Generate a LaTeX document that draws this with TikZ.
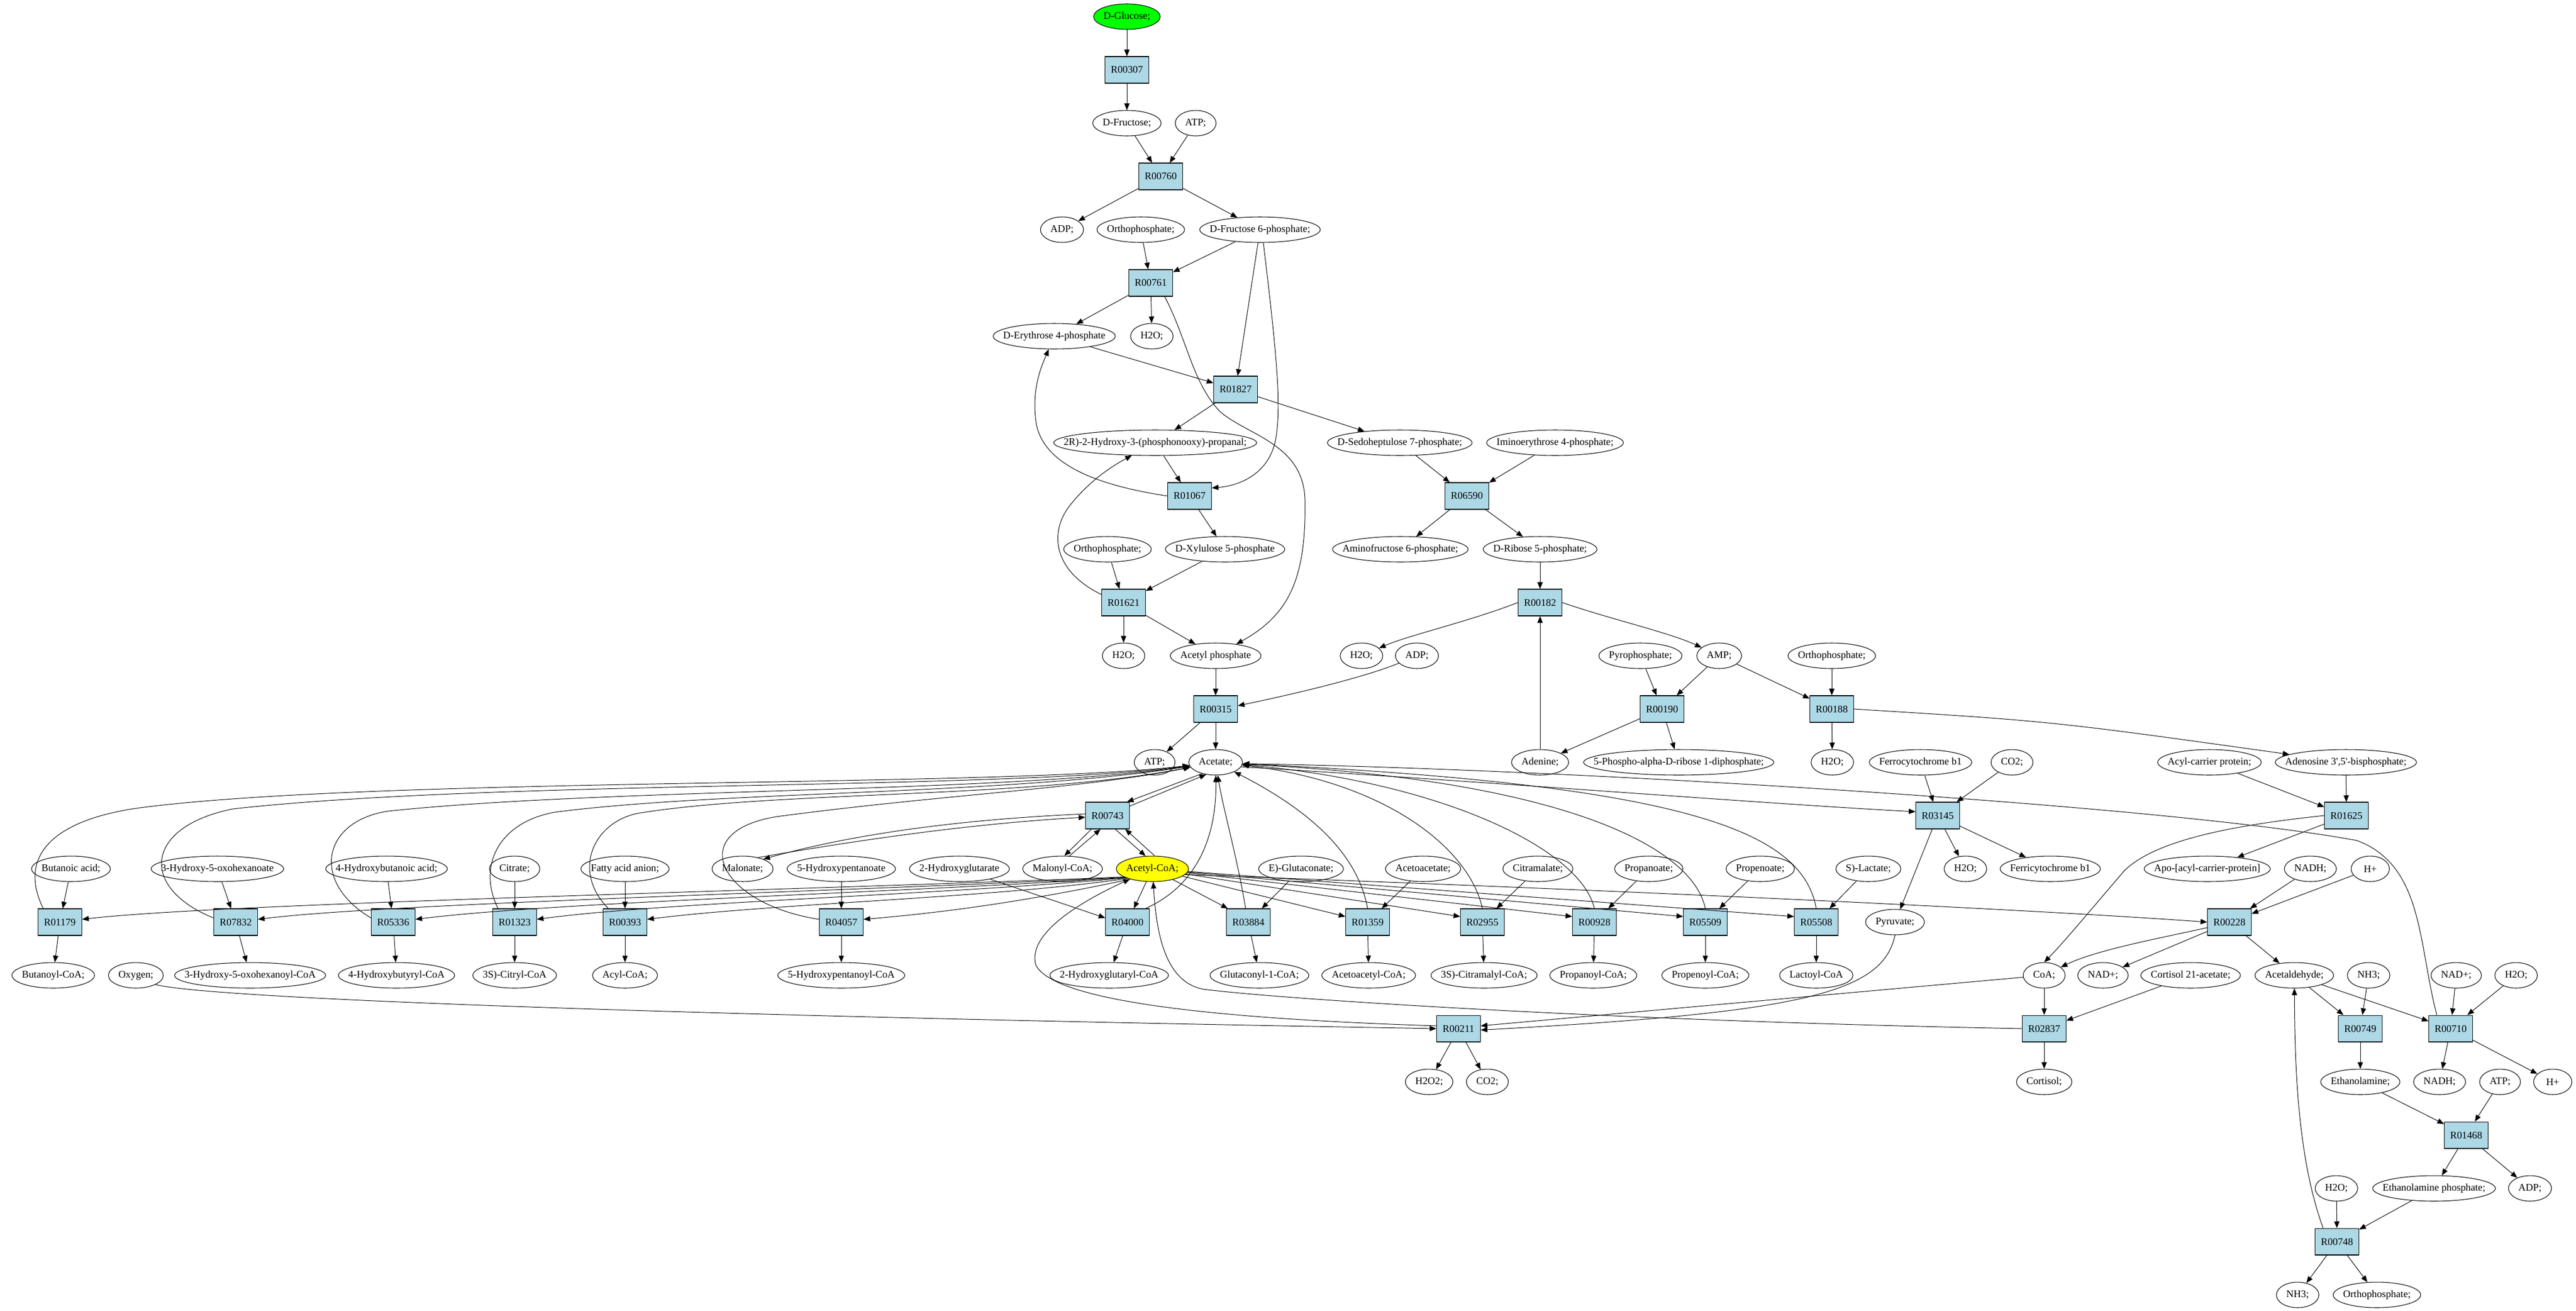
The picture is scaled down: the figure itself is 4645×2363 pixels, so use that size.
\documentclass[tikz,border=0pt]{standalone}
\usepackage{fontspec}
\setmainfont{Liberation Serif}
\usetikzlibrary{arrows.meta,shapes.geometric}
\definecolor{rbox}{HTML}{ADD8E6}
\definecolor{gluc}{HTML}{00FF00}
\definecolor{acy}{HTML}{FFFF00}
\newdimen\mwid
\font\nodefnt="Liberation Serif" at 10.4pt
\newcommand\metnode[5][]{\setbox0=\hbox{\nodefnt #5}\mwid=\wd0 \advance\mwid by 0.72cm \ifdim\mwid<1.38cm \mwid=1.38cm\fi \edef\mwval{\the\mwid}\node[met,#1,minimum width=\mwval] (#2) at (#3,#4) {#5};}
\newcommand\rxnnode[3]{\node[rxn] (#1) at (#2,#3) {\MakeUppercase{#1}};}
\tikzset{
  met/.style={ellipse, draw, line width=0.6pt, font=\nodefnt, inner xsep=-3cm, inner ysep=0pt, minimum height=0.92cm},
  rxn/.style={rectangle, draw, fill=rbox, line width=0.6pt, font=\nodefnt, minimum width=1.58cm, minimum height=0.96cm, inner sep=1pt},
  edg/.style={draw, line width=0.55pt, -{Triangle[length=0.24cm,width=0.19cm]}},
}
\begin{document}
\begin{tikzpicture}[x=0.02cm,y=-0.02cm]
\fill[white] (0,0) rectangle (4645,2363);
\useasboundingbox (0,0) rectangle (4645,2363);
% ---- nodes
\metnode[fill=gluc]{glc}{2032}{30}{D-Glucose;}
\rxnnode{r00307}{2032}{126}
\metnode{fru}{2032}{222}{D-Fructose;}
\metnode{atp1}{2156}{222}{ATP;}
\rxnnode{r00760}{2093}{318}
\metnode{adp1}{1915}{414}{ADP;}
\metnode{pi1}{2057}{414}{Orthophosphate;}
\metnode{f6p}{2272}{414}{D-Fructose 6-phosphate;}
\rxnnode{r00761}{2075}{510}
\metnode{e4p}{1901}{606}{D-Erythrose 4-phosphate}
\metnode{h2o1}{2077}{606}{H2O;}
\rxnnode{r01827}{2228}{702}
\metnode{gap}{2083}{798}{2R)-2-Hydroxy-3-(phosphonooxy)-propanal;}
\metnode{s7p}{2524}{798}{D-Sedoheptulose 7-phosphate;}
\metnode{imino}{2804}{798}{Iminoerythrose 4-phosphate;}
\rxnnode{r01067}{2145}{894}
\rxnnode{r06590}{2645}{894}
\metnode{pi2}{1997}{990}{Orthophosphate;}
\metnode{xu5p}{2209}{990}{D-Xylulose 5-phosphate}
\metnode{amino}{2525}{990}{Aminofructose 6-phosphate;}
\metnode{r5p}{2777}{990}{D-Ribose 5-phosphate;}
\rxnnode{r01621}{2026}{1086}
\rxnnode{r00182}{2777}{1086}
\metnode{h2o2}{2026}{1182}{H2O;}
\metnode{acp}{2192}{1182}{Acetyl phosphate}
\metnode{h2o3}{2455}{1182}{H2O;}
\metnode{adp2}{2555}{1182}{ADP;}
\metnode{ppi}{2958}{1182}{Pyrophosphate;}
\metnode{amp}{3100}{1182}{AMP;}
\metnode{pi3}{3303}{1182}{Orthophosphate;}
\rxnnode{r00315}{2192}{1278}
\rxnnode{r00190}{2997}{1278}
\rxnnode{r00188}{3303}{1278}
\metnode{atp2}{2082}{1374}{ATP;}
\metnode{acet}{2192}{1374}{Acetate;}
\metnode{aden}{2777}{1374}{Adenine;}
\metnode{prpp}{3027}{1374}{5-Phospho-alpha-D-ribose 1-diphosphate;}
\metnode{h2o4}{3304}{1374}{H2O;}
\metnode{fcb}{3463}{1374}{Ferrocytochrome b1}
\metnode{co2a}{3628}{1374}{CO2;}
\metnode{acyl}{3984}{1374}{Acyl-carrier protein;}
\metnode{pap}{4230}{1374}{Adenosine 3',5'-bisphosphate;}
\rxnnode{r00743}{1997}{1470}
\rxnnode{r03145}{3494}{1470}
\rxnnode{r01625}{4231}{1470}
\metnode{but}{128}{1566}{Butanoic acid;}
\metnode{hoh}{392}{1566}{3-Hydroxy-5-oxohexanoate}
\metnode{hba}{697}{1566}{4-Hydroxybutanoic acid;}
\metnode{cit}{928}{1566}{Citrate;}
\metnode{fa}{1127}{1566}{Fatty acid anion;}
\metnode{malon}{1339}{1566}{Malonate;}
\metnode{hpa}{1517}{1566}{5-Hydroxypentanoate}
\metnode{hglut}{1730}{1566}{2-Hydroxyglutarate}
\metnode{malcoa}{1916}{1566}{Malonyl-CoA;}
\metnode[fill=acy]{acoa}{2078}{1566}{Acetyl-CoA;}
\metnode{egl}{2346}{1566}{E)-Glutaconate;}
\metnode{acac}{2566}{1566}{Acetoacetate;}
\metnode{citm}{2773}{1566}{Citramalate;}
\metnode{prop}{2973}{1566}{Propanoate;}
\metnode{prope}{3174}{1566}{Propenoate;}
\metnode{lac}{3369}{1566}{S)-Lactate;}
\metnode{h2o5}{3544}{1566}{H2O;}
\metnode{fricb}{3697}{1566}{Ferricytochrome b1}
\metnode{apo}{3980}{1566}{Apo-[acyl-carrier-protein]}
\metnode{nadh1}{4166}{1566}{NADH;}
\metnode{hp1}{4274}{1566}{H+}
\rxnnode{r01179}{108}{1662}
\rxnnode{r07832}{425}{1662}
\rxnnode{r05336}{709}{1662}
\rxnnode{r01323}{928}{1662}
\rxnnode{r00393}{1127}{1662}
\rxnnode{r04057}{1517}{1662}
\rxnnode{r04000}{2033}{1662}
\rxnnode{r03884}{2251}{1662}
\rxnnode{r01359}{2466}{1662}
\rxnnode{r02955}{2673}{1662}
\rxnnode{r00928}{2875}{1662}
\rxnnode{r05509}{3075}{1662}
\rxnnode{r05508}{3275}{1662}
\metnode{pyr}{3417}{1662}{Pyruvate;}
\rxnnode{r00228}{4020}{1662}
\metnode{butcoa}{96}{1758}{Butanoyl-CoA;}
\metnode{oxy}{245}{1758}{Oxygen;}
\metnode{hohcoa}{451}{1758}{3-Hydroxy-5-oxohexanoyl-CoA}
\metnode{hbcoa}{715}{1758}{4-Hydroxybutyryl-CoA}
\metnode{citcoa}{928}{1758}{3S)-Citryl-CoA}
\metnode{acylcoa}{1127}{1758}{Acyl-CoA;}
\metnode{hpcoa}{1517}{1758}{5-Hydroxypentanoyl-CoA}
\metnode{hgcoa}{2000}{1758}{2-Hydroxyglutaryl-CoA}
\metnode{glcoa}{2271}{1758}{Glutaconyl-1-CoA;}
\metnode{aacoa}{2468}{1758}{Acetoacetyl-CoA;}
\metnode{cmcoa}{2676}{1758}{3S)-Citramalyl-CoA;}
\metnode{prcoa}{2873}{1758}{Propanoyl-CoA;}
\metnode{pecoa}{3075}{1758}{Propenoyl-CoA;}
\metnode{lacoa}{3275}{1758}{Lactoyl-CoA}
\metnode{coa}{3686}{1758}{CoA;}
\metnode{nad1}{3792}{1758}{NAD+;}
\metnode{cort21}{3950}{1758}{Cortisol 21-acetate;}
\metnode{acald}{4137}{1758}{Acetaldehyde;}
\metnode{nh3a}{4271}{1758}{NH3;}
\metnode{nad2}{4429}{1758}{NAD+;}
\metnode{h2o6}{4537}{1758}{H2O;}
\rxnnode{r00211}{2630}{1854}
\rxnnode{r02837}{3686}{1854}
\rxnnode{r00749}{4256}{1854}
\rxnnode{r00710}{4419}{1854}
\metnode{h2o2b}{2577}{1950}{H2O2;}
\metnode{co2b}{2682}{1950}{CO2;}
\metnode{cort}{3686}{1950}{Cortisol;}
\metnode{etn}{4256}{1950}{Ethanolamine;}
\metnode{nadh2}{4399}{1950}{NADH;}
\metnode{atp3}{4508}{1950}{ATP;}
\metnode{hp2}{4603}{1950}{H+}
\rxnnode{r01468}{4447}{2046}
\metnode{h2o7}{4213}{2142}{H2O;}
\metnode{etnp}{4389}{2142}{Ethanolamine phosphate;}
\metnode{adp3}{4562}{2142}{ADP;}
\rxnnode{r00748}{4214}{2238}
\metnode{nh3b}{4143}{2334}{NH3;}
\metnode{pi4}{4286}{2334}{Orthophosphate;}
% ---- upper pathway
\draw[edg] (glc) -- (r00307);
\draw[edg] (r00307) -- (fru);
\draw[edg] (fru) -- (r00760);
\draw[edg] (atp1) -- (r00760);
\draw[edg] (r00760) -- (adp1);
\draw[edg] (r00760) -- (f6p);
\draw[edg] (pi1) -- (r00761);
\draw[edg] (f6p) -- (r00761);
\draw[edg] (r00761) -- (e4p);
\draw[edg] (r00761) -- (h2o1);
\draw[edg] ([xshift=-0.3cm]r00761.south east) .. controls (2140,610) and (2150,690) .. (2200,742) .. controls (2250,785) and (2350,800) .. (2353,900) .. controls (2356,1050) and (2320,1110) .. (acp);
\draw[edg] (f6p) -- (r01827);
\draw[edg] ([xshift=0.12cm]f6p.south) .. controls (2300,620) and (2310,720) .. (2302,780) .. controls (2295,850) and (2240,875) .. ([yshift=-0.2cm]r01067.north east);
\draw[edg] (e4p) -- (r01827);
\draw[edg] (r01827) -- (gap);
\draw[edg] (r01827) -- (s7p);
\draw[edg] (gap) -- (r01067);
\draw[edg] (r01067.west) .. controls (2000,878) and (1880,845) .. (1868,760) .. controls (1860,700) and (1878,660) .. (e4p);
\draw[edg] (r01067) -- (xu5p);
\draw[edg] ([yshift=-0.2cm]r01621.north west) .. controls (1900,1030) and (1890,960) .. (1930,910) .. controls (1970,860) and (2015,835) .. (gap);
\draw[edg] (pi2) -- (r01621);
\draw[edg] (xu5p) -- (r01621);
\draw[edg] (r01621) -- (h2o2);
\draw[edg] (r01621) -- (acp);
\draw[edg] (acp) -- (r00315);
\draw[edg] (adp2) .. controls (2450,1225) and (2300,1258) .. ([yshift=0.12cm]r00315.east);
\draw[edg] (r00315) -- (atp2);
\draw[edg] (r00315) -- (acet);
\draw[edg] (s7p) -- (r06590);
\draw[edg] (imino) -- (r06590);
\draw[edg] (r06590) -- (amino);
\draw[edg] (r06590) -- (r5p);
\draw[edg] (r5p) -- (r00182);
\draw[edg] (aden) -- (r00182);
\draw[edg] (r00182.west) .. controls (2650,1120) and (2540,1145) .. (h2o3);
\draw[edg] (r00182.east) .. controls (2900,1115) and (3010,1140) .. (amp);
\draw[edg] (ppi) -- (r00190);
\draw[edg] (amp) -- (r00190);
\draw[edg] (amp) -- (r00188);
\draw[edg] (pi3) -- (r00188);
\draw[edg] (r00190) -- (aden);
\draw[edg] (r00190) -- (prpp);
\draw[edg] (r00188) -- (h2o4);
\draw[edg] (r00188.east) .. controls (3700,1300) .. (pap);
% ---- R03145, R01625
\draw[edg] (fcb) -- (r03145);
\draw[edg] (co2a) -- (r03145);
\draw[edg] (r03145) -- (h2o5);
\draw[edg] (r03145) -- (fricb);
\draw[edg] (r03145) -- (pyr);
\draw[edg] (acet.350) .. controls (2700,1410) and (3200,1450) .. ([yshift=0.14cm]r03145.west);
\draw[edg] (acyl) -- (r01625);
\draw[edg] (pap) -- (r01625);
\draw[edg] (r01625) -- (apo);
\draw[edg] (r01625.west) .. controls (4000,1490) and (3880,1520) .. (3830,1570) .. controls (3770,1640) and (3720,1700) .. (coa.north);
% ---- R00228, R02837, R00211
\draw[edg] (nadh1) -- (r00228);
\draw[edg] (hp1) -- (r00228);
\draw[edg] ([yshift=-0.2cm]r00228.west) .. controls (3900,1690) and (3780,1712) .. (coa);
\draw[edg] (r00228) -- (nad1);
\draw[edg] (r00228) -- (acald);
\draw[edg] (acoa.350) .. controls (2800,1600) and (3600,1635) .. (r00228.west);
\draw[edg] (coa) -- (r02837);
\draw[edg] (cort21) -- (r02837);
\draw[edg] (r02837) -- (cort);
\draw[edg] (r02837.west) .. controls (2900,1840) and (2300,1800) .. (2170,1783) .. controls (2100,1770) and (2085,1680) .. (acoa);
\draw[edg] (oxy.south east) .. controls (380,1800) and (1200,1830) .. (r00211.west);
\draw[edg] ([yshift=0.1cm]r00211.west) .. controls (2150,1835) and (1900,1800) .. (1868,1740) .. controls (1850,1680) and (1960,1620) .. (acoa);
\draw[edg] (coa) -- ([yshift=0.1cm]r00211.east);
\draw[edg] (pyr.south) .. controls (3395,1790) and (3250,1825) .. ([yshift=-0.05cm]r00211.east);
\draw[edg] (r00211) -- (h2o2b);
\draw[edg] (r00211) -- (co2b);
% ---- ethanolamine part
\draw[edg] (acald) -- (r00749);
\draw[edg] (nh3a) -- (r00749);
\draw[edg] (r00749) -- (etn);
\draw[edg] (acald) -- (r00710);
\draw[edg] (nad2) -- (r00710);
\draw[edg] (h2o6) -- (r00710);
\draw[edg] (r00710) -- (nadh2);
\draw[edg] (r00710) -- (hp2);
\draw[edg] ([xshift=0.3cm]r00710.north west) .. controls (4360,1700) and (4370,1560) .. (4250,1515) .. controls (3900,1450) and (2800,1385) .. (acet.357);
\draw[edg] (etn) -- (r01468);
\draw[edg] (atp3) -- (r01468);
\draw[edg] (r01468) -- (etnp);
\draw[edg] (r01468) -- (adp3);
\draw[edg] (h2o7) -- (r00748);
\draw[edg] (etnp) -- (r00748);
\draw[edg] (r00748) -- (nh3b);
\draw[edg] (r00748) -- (pi4);
\draw[edg] ([xshift=0.3cm]r00748.north west) .. controls (4140,2080) and (4138,1900) .. (acald);
% ---- R00743
\draw[edg] (acet.220) -- ([xshift=-0.1cm]r00743.north east);
\draw[edg] ([yshift=-0.15cm]r00743.north east) -- (acet.232);
\draw[edg] ([xshift=0.22cm]r00743.south west) -- (malcoa.82);
\draw[edg] (malcoa.62) -- ([xshift=0.55cm]r00743.south west);
\draw[edg] ([xshift=1.08cm]r00743.south west) -- (acoa.118);
\draw[edg] (acoa.80) -- ([xshift=1.44cm]r00743.south west);
\draw[edg] ([yshift=0.06cm]r00743.west) .. controls (1750,1476) and (1550,1500) .. (malon.25);
\draw[edg] (malon.36) .. controls (1560,1512) and (1760,1484) .. ([yshift=-0.06cm]r00743.west);
% ---- left CoA-transferases
\draw[edg] (but) -- (r01179);
\draw[edg] (hoh) -- (r07832);
\draw[edg] (hba) -- (r05336);
\draw[edg] (cit) -- (r01323);
\draw[edg] (fa) -- (r00393);
\draw[edg] (hpa) -- (r04057);
\draw[edg] (r01179) -- (butcoa);
\draw[edg] (r07832) -- (hohcoa);
\draw[edg] (r05336) -- (hbcoa);
\draw[edg] (r01323) -- (citcoa);
\draw[edg] (r00393) -- (acylcoa);
\draw[edg] (r04057) -- (hpcoa);
\draw[edg] (acoa.196) .. controls (1400,1606) and (400,1628) .. ([yshift=0.1cm]r01179.east);
\draw[edg] (acoa.197) .. controls (1500,1608) and (700,1628) .. ([yshift=0.1cm]r07832.east);
\draw[edg] (acoa.198) .. controls (1600,1610) and (1000,1626) .. ([yshift=0.1cm]r05336.east);
\draw[edg] (acoa.199) .. controls (1700,1613) and (1200,1626) .. ([yshift=0.1cm]r01323.east);
\draw[edg] (acoa.201) .. controls (1800,1618) and (1400,1628) .. ([yshift=0.1cm]r00393.east);
\draw[edg] (acoa.205) .. controls (1850,1625) and (1700,1645) .. ([yshift=0.1cm]r04057.east);
\draw[edg] ([xshift=0.2cm]r01179.north west) .. controls (30,1540) and (100,1475) .. (260,1455) .. controls (700,1400) and (1800,1420) .. (acet);
\draw[edg] ([yshift=0.15cm]r07832.west) .. controls (250,1600) and (260,1490) .. (420,1458) .. controls (900,1405) and (1800,1425) .. (acet);
\draw[edg] ([yshift=0.15cm]r05336.west) .. controls (560,1590) and (580,1480) .. (700,1462) .. controls (1100,1420) and (1800,1430) .. (acet);
\draw[edg] ([xshift=0.2cm]r01323.north west) .. controls (860,1560) and (900,1482) .. (1000,1464) .. controls (1300,1425) and (1800,1434) .. (acet);
\draw[edg] ([xshift=0.2cm]r00393.north west) .. controls (1030,1570) and (1070,1482) .. (1150,1466) .. controls (1400,1425) and (1850,1440) .. (acet);
\draw[edg] ([yshift=0.1cm]r04057.west) .. controls (1300,1630) and (1230,1500) .. (1400,1472) .. controls (1700,1432) and (1950,1422) .. (acet);
% ---- right CoA-transferases
\draw[edg] (hglut) -- ([yshift=0.15cm]r04000.west);
\draw[edg] (egl) -- (r03884);
\draw[edg] (acac) -- (r01359);
\draw[edg] (citm) -- (r02955);
\draw[edg] (prop) -- (r00928);
\draw[edg] (prope) -- (r05509);
\draw[edg] (lac) -- (r05508);
\draw[edg] (r04000) -- (hgcoa);
\draw[edg] (r03884) -- (glcoa);
\draw[edg] (r01359) -- (aacoa);
\draw[edg] (r02955) -- (cmcoa);
\draw[edg] (r00928) -- (prcoa);
\draw[edg] (r05509) -- (pecoa);
\draw[edg] (r05508) -- (lacoa);
\draw[edg] (acoa) -- (r04000);
\draw[edg] (acoa) -- ([xshift=0.06cm]r03884.north west);
\draw[edg] (acoa) -- ([yshift=0.2cm]r01359.west);
\draw[edg] (acoa) -- ([yshift=0.2cm]r02955.west);
\draw[edg] (acoa) -- ([yshift=0.2cm]r00928.west);
\draw[edg] (acoa) -- ([yshift=0.2cm]r05509.west);
\draw[edg] (acoa) -- ([yshift=0.2cm]r05508.west);
\draw[edg] ([xshift=-0.15cm]r04000.north east) .. controls (2150,1600) and (2194,1520) .. (acet);
\draw[edg] ([xshift=-0.1cm]r03884.north) .. controls (2232,1550) and (2206,1460) .. (acet);
\draw[edg] (r01359.north) .. controls (2450,1550) and (2380,1470) .. (acet);
\draw[edg] (r02955.north) .. controls (2650,1530) and (2500,1410) .. (acet.354);
\draw[edg] (r00928.north) .. controls (2850,1530) and (2600,1410) .. (acet.355);
\draw[edg] (r05509.north) .. controls (3050,1520) and (2800,1405) .. (acet.356);
\draw[edg] (r05508.north) .. controls (3250,1500) and (3050,1415) .. (acet.357);
\end{tikzpicture}
\end{document}
